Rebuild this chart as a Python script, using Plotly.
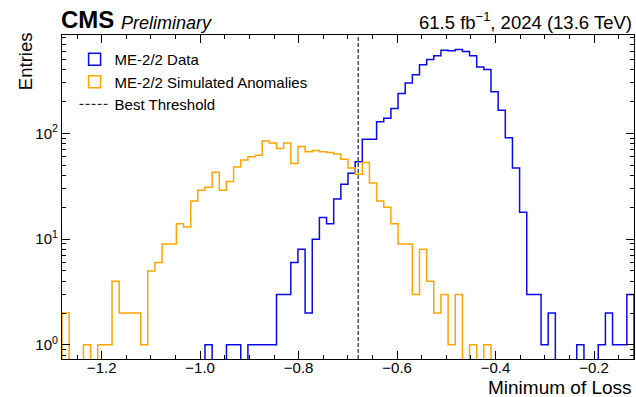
import numpy as np
import plotly.graph_objects as go

# ---------------- data ----------------
bin_low = -1.2806
bin_high = -0.1188
n_bins = 80

data_counts = [
    0, 0, 0, 0, 0, 0, 0, 0, 0, 0,
    0, 0, 0, 0, 0, 0, 0, 0, 0, 0,
    1, 0, 0, 1, 1, 0, 1, 1, 1, 1,
    3, 3, 6, 8, 2, 10, 16, 14, 24, 33,
    42, 54, 88, 88, 129, 139, 172, 239, 300, 358,
    446, 500, 544, 613, 606, 622, 594, 542, 426, 403,
    248, 166, 91, 47, 18, 3, 3, 1, 2, 0,
    0, 0, 1, 0, 0, 1, 2, 1, 1, 3,
]
anomaly_counts = [
    2, 0, 0, 1, 0, 1, 1, 4, 2, 2,
    2, 1, 5, 6, 9, 9, 14, 13, 23, 29,
    31, 43, 29, 35, 48, 56, 60, 62, 85, 81,
    72, 81, 52, 75, 67, 69, 67, 66, 64, 57,
    47, 41, 53, 34, 23, 20, 14, 9, 9, 3,
    8, 4, 2, 3, 1, 3, 0, 1, 0, 1,
    0, 0, 0, 0, 0, 0, 0, 0, 0, 0,
    0, 0, 0, 0, 0, 0, 0, 0, 0, 0,
]
best_threshold = -0.679

series_names = ["ME-2/2 Data", "ME-2/2 Simulated Anomalies", "Best Threshold"]
x_tick_vals = [-1.2, -1.0, -0.8, -0.6, -0.4, -0.2]
x_tick_text = ["\u22121.2", "\u22121.0", "\u22120.8", "\u22120.6", "\u22120.4", "\u22120.2"]
y_tick_vals = [1, 10, 100]
y_tick_text = ["10<sup>0</sup>", "10<sup>1</sup>", "10<sup>2</sup>"]

# ---------------- build ----------------
edges = np.linspace(bin_low, bin_high, n_bins + 1)
FLOOR = 1e-2  # stand-in for empty bins on the log axis (below visible range)


def step_xy(counts):
    c = [v if v > 0 else FLOOR for v in counts]
    xs = [edges[0]] + list(edges) + [edges[-1]]
    ys = [FLOOR] + c + [c[-1]] + [FLOOR]
    return xs, ys


BLUE = "#0a0ae6"
ORANGE = "#ffa500"
FONT = "Liberation Sans, Arial, Helvetica, sans-serif"

fig = go.Figure()
for counts, col in [(data_counts, BLUE), (anomaly_counts, ORANGE)]:
    xs, ys = step_xy(counts)
    fig.add_trace(go.Scatter(x=xs, y=ys, mode="lines",
                             line=dict(color=col, width=1.5, shape="hv"),
                             showlegend=False, hoverinfo="skip"))

# legend entries
for name, col in [(series_names[0], BLUE), (series_names[1], ORANGE)]:
    fig.add_trace(go.Bar(x=[None], y=[None], name=name,
                         marker=dict(color="rgba(0,0,0,0)", line=dict(color=col, width=1.5))))
fig.add_trace(go.Scatter(x=[None], y=[None], mode="lines", name=series_names[2],
                         line=dict(color="black", width=1, dash="4px,2px")))

fig.add_vline(x=best_threshold, line=dict(color="black", width=1, dash="4px,2px"))

minor_y = [m * 10 ** d for d in (-1, 0, 1, 2) for m in range(2, 10)]

fig.update_layout(
    width=636, height=397,
    margin=dict(l=62, r=2, t=35, b=38),
    paper_bgcolor="white", plot_bgcolor="white",
    font=dict(family=FONT, color="black"),
    showlegend=True,
    legend=dict(x=0.022, y=0.975, xanchor="left", yanchor="top",
                font=dict(size=15, family=FONT), bgcolor="rgba(0,0,0,0)",
                tracegroupgap=0, itemwidth=30),
    xaxis=dict(type="linear", range=[bin_low, bin_high],
               tickmode="array", tickvals=x_tick_vals, ticktext=x_tick_text,
               ticks="inside", ticklen=8, tickwidth=1, tickcolor="black",
               ticklabelstandoff=-5,
               showline=True, linecolor="black", linewidth=1.3, mirror="allticks",
               showgrid=False, zeroline=False,
               tickfont=dict(size=15, family=FONT, color="black"),
               minor=dict(ticks="inside", ticklen=4, tickwidth=1, tickcolor="black",
                          dtick=0.05, tick0=-1.2, showgrid=False)),
    yaxis=dict(type="log", range=[-0.134, 2.931],
               tickmode="array", tickvals=y_tick_vals, ticktext=y_tick_text,
               ticks="inside", ticklen=8, tickwidth=1, tickcolor="black",
               showline=True, linecolor="black", linewidth=1.3, mirror="allticks",
               showgrid=False, zeroline=False,
               tickfont=dict(size=15, family=FONT, color="black"),
               minor=dict(ticks="inside", ticklen=4, tickwidth=1, tickcolor="black",
                          tickmode="array", tickvals=minor_y, showgrid=False)),
    annotations=[
        dict(text="<b>CMS</b>", xref="paper", yref="paper", x=-0.005, y=1.0,
             xanchor="left", yanchor="bottom", showarrow=False,
             font=dict(size=24, family=FONT, color="black")),
        dict(text="<i>Preliminary</i>", xref="paper", yref="paper", x=0.1, y=1.0,
             xanchor="left", yanchor="bottom", showarrow=False,
             font=dict(size=18, family=FONT, color="black")),
        dict(text="61.5 fb<sup>\u22121</sup>, 2024 (13.6 TeV)", xref="paper", yref="paper",
             x=1.0, y=1.0, xanchor="right", yanchor="bottom", showarrow=False,
             font=dict(size=18.5, family=FONT, color="black")),
        dict(text="Minimum of Loss", xref="paper", yref="paper", x=1.0, y=-0.05,
             xanchor="right", yanchor="top", showarrow=False,
             font=dict(size=19, family=FONT, color="black")),
        dict(text="Entries", xref="paper", yref="paper", x=-0.0647, y=1.015,
             xanchor="center", yanchor="top", textangle=-90, showarrow=False,
             font=dict(size=18.5, family=FONT, color="black")),
    ],
)

fig.write_html("out.html")
